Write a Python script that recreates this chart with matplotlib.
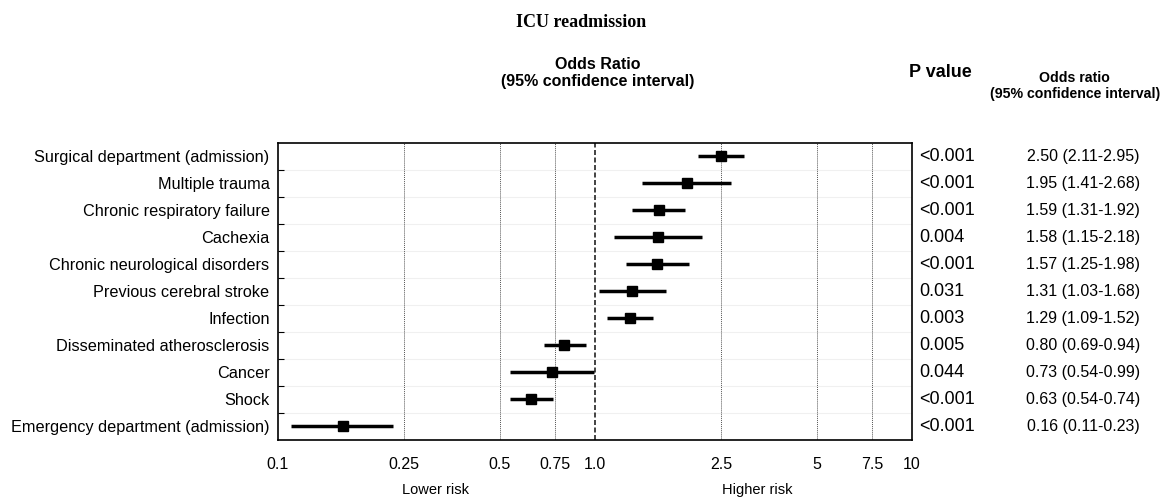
import numpy as np
import matplotlib.pyplot as plt
from matplotlib.ticker import FixedLocator, NullLocator

plt.rcParams['font.family'] = ['Liberation Sans', 'DejaVu Sans']

labels = ["Surgical department (admission)", "Multiple trauma", "Chronic respiratory failure",
          "Cachexia", "Chronic neurological disorders", "Previous cerebral stroke", "Infection",
          "Disseminated atherosclerosis", "Cancer", "Shock", "Emergency department (admission)"]
odds = [2.50, 1.95, 1.59, 1.58, 1.57, 1.31, 1.29, 0.80, 0.73, 0.63, 0.16]
ci_low = [2.11, 1.41, 1.31, 1.15, 1.25, 1.03, 1.09, 0.69, 0.54, 0.54, 0.11]
ci_high = [2.95, 2.68, 1.92, 2.18, 1.98, 1.68, 1.52, 0.94, 0.99, 0.74, 0.23]
pvals = ["<0.001", "<0.001", "<0.001", "0.004", "<0.001", "0.031", "0.003",
         "0.005", "0.044", "<0.001", "<0.001"]
xticks = [0.1, 0.25, 0.5, 0.75, 1.0, 2.5, 5, 7.5, 10]
xticklabels = ["0.1", "0.25", "0.5", "0.75", "1.0", "2.5", "5", "7.5", "10"]

fig = plt.figure(figsize=(11.62, 4.97), dpi=100)
ax = fig.add_axes([0.2392, 0.1147, 0.5456, 0.5976])

y = np.arange(len(labels))
odds_a = np.array(odds)
err = [odds_a - np.array(ci_low), np.array(ci_high) - odds_a]

ax.set_xscale('log')
ax.set_xlim(0.1, 10)
ax.set_ylim(len(labels) - 0.5, -0.5)

# grid lines
for t in [0.25, 0.5, 0.75, 2.5, 5, 7.5]:
    ax.axvline(t, color='#555555', lw=0.7, ls=(0, (1, 1)), zorder=1)
ax.axvline(1.0, color='#222222', lw=1.2, ls=(0, (3, 1.5)), zorder=1)
for b in np.arange(0.5, len(labels) - 0.5, 1):
    ax.axhline(b, color='#f0f0f0', lw=0.8, zorder=0)

ax.errorbar(odds, y, xerr=err, fmt='s', color='black', ms=7, lw=2.5,
            capsize=0, zorder=3)

ax.xaxis.set_major_locator(FixedLocator(xticks))
ax.xaxis.set_minor_locator(NullLocator())
ax.set_xticklabels(xticklabels, fontsize=11.5)
ax.tick_params(axis='x', length=0, pad=12)

ax.set_yticks(y)
ax.set_yticklabels(labels, fontsize=11.7)
ax.tick_params(axis='y', length=0, pad=6)
ax.set_yticks(np.arange(0.5, len(labels) - 0.5, 1), minor=True)
ax.tick_params(axis='y', which='minor', direction='in', length=4, width=0.8)
for s in ax.spines.values():
    s.set_linewidth(1.2)

# right-hand columns
for i in range(len(labels)):
    ax.text(1.012, i, pvals[i], transform=ax.get_yaxis_transform(),
            ha='left', va='center', fontsize=13)
    ax.text(1.27, i, f"{odds[i]:.2f} ({ci_low[i]:.2f}-{ci_high[i]:.2f})",
            transform=ax.get_yaxis_transform(), ha='center', va='center', fontsize=11.5)

fig.text(0.5, 0.955, "ICU readmission", ha='center', va='center', fontsize=13,
         fontweight='bold', family=['Liberation Serif', 'DejaVu Serif'])
fig.text(0.5146, 0.853, "Odds Ratio\n(95% confidence interval)", ha='center', va='center',
         fontsize=11.5, fontweight='bold', linespacing=1.2)
fig.text(0.809, 0.855, "P value", ha='center', va='center', fontsize=13, fontweight='bold')
fig.text(0.925, 0.827, "Odds ratio\n(95% confidence interval)", ha='center', va='center',
         fontsize=10.2, fontweight='bold', linespacing=1.1)
fig.text(0.375, 0.015, "Lower risk", ha='center', va='center', fontsize=10.5)
fig.text(0.652, 0.015, "Higher risk", ha='center', va='center', fontsize=10.5)

fig.savefig("out.png", dpi=100)
